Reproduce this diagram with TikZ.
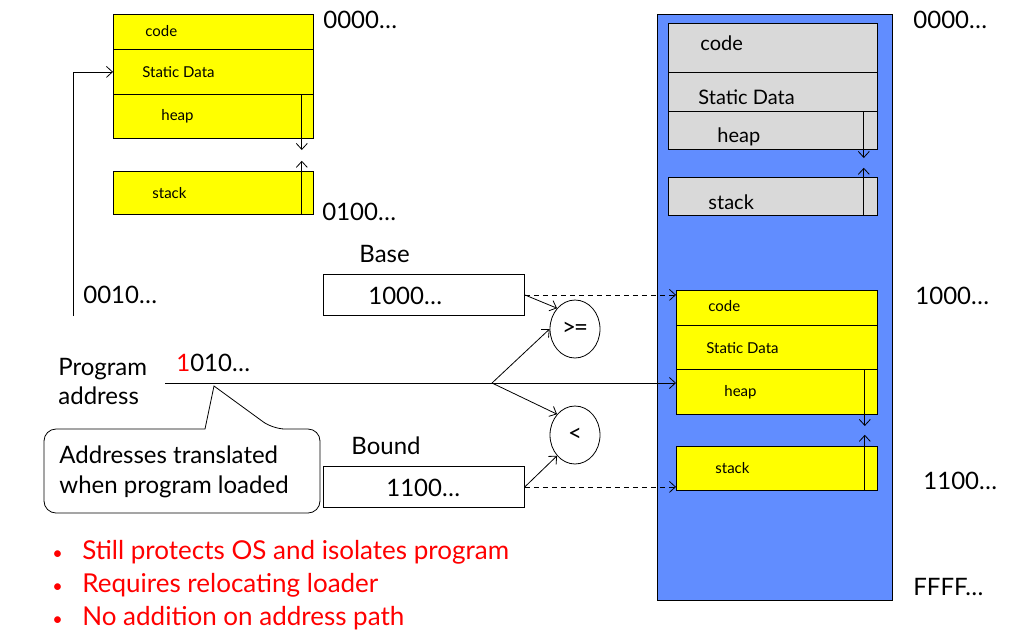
\documentclass[tikz,border=0pt]{standalone}
\usepackage{fontspec}
\setmainfont{Lato}
\usetikzlibrary{arrows.meta,shapes.geometric}
\definecolor{segyellow}{RGB}{255,255,0}
\definecolor{memblue}{RGB}{97,141,255}
\definecolor{seggray}{RGB}{217,217,217}
\definecolor{notered}{RGB}{255,0,0}
\newcommand{\bulletline}[1]{\makebox[30pt][l]{\fontsize{18}{18}\selectfont•}#1}

\begin{document}
\begin{tikzpicture}[x=1pt, y=-1pt, line width=0.8pt, >={Straight Barb[length=6pt,width=11pt]},
  seg/.style={draw, fill=segyellow, anchor=north west, inner sep=0pt},
  gseg/.style={draw, fill=seggray, anchor=north west, inner sep=0pt},
  reg/.style={draw, anchor=north west, inner sep=0pt, minimum width=201, minimum height=41},
  cmp/.style={draw, ellipse, inner sep=0pt, minimum width=50, minimum height=58, font=\fontsize{24}{24}\selectfont},
  small/.style={anchor=west, inner sep=0pt, font=\fontsize{15}{18}\selectfont},
  mid/.style={anchor=west, inner sep=0pt, font=\fontsize{20}{24}\selectfont},
  big/.style={anchor=west, inner sep=0pt, font=\fontsize{24}{29}\selectfont},
  link/.style={dash pattern=on 5pt off 4pt}]
  \useasboundingbox (0,0) rectangle (1011,633);

  % program as compiled
  \node[seg, minimum width=200, minimum height=35] (lcode) at (113,14) {};
  \node[seg, minimum width=200, minimum height=45] (ldata) at (113,49) {};
  \node[seg, minimum width=200, minimum height=44] (lheap) at (113,94) {};
  \node[seg, minimum width=200, minimum height=43] (lstack) at (113,171) {};
  \node[small] at (145,31) {code};
  \node[small] at (142,72) {Static Data};
  \node[small] at (161,116) {heap};
  \node[small] at (152,193) {stack};
  \draw[->] ([xshift=-12pt]lheap.north east) -- ++(0,56);
  \draw[->] ([xshift=-12pt]lstack.south east) -- ++(0,-54);
  \node[big] (ltop) at (323,20) {0000…};
  \node[big] (lbot) at (322,212) {0100…};
  \node[big] (lmid) at (83,295) {0010…};
  \coordinate (lfoot) at (73,316);
  \draw[->] (lfoot) |- (ldata.west);

  % physical memory
  \node[draw, fill=memblue, anchor=north west, minimum width=235, minimum height=586] (mem) at (657,14) {};
  \node[gseg, minimum width=209, minimum height=49] (gcode) at (668,23) {};
  \node[gseg, minimum width=209, minimum height=39] (gdata) at (668,72) {};
  \node[gseg, minimum width=209, minimum height=38] (gheap) at (668,111) {};
  \node[gseg, minimum width=209, minimum height=38] (gstack) at (668,177) {};
  \node[mid] at (700,43) {code};
  \node[mid] at (698,97) {Static Data};
  \node[mid] at (717,137) {heap};
  \node[mid] at (708,202) {stack};
  \draw[->] ([xshift=-14pt]gheap.north east) -- ++(0,47);
  \draw[->] ([xshift=-14pt]gstack.south east) -- ++(0,-48);

  \node[seg, minimum width=201, minimum height=35] (rcode) at (676,290) {};
  \node[seg, minimum width=201, minimum height=44] (rdata) at (676,325) {};
  \node[seg, minimum width=201, minimum height=45] (rheap) at (676,369) {};
  \node[seg, minimum width=201, minimum height=44] (rstack) at (676,446) {};
  \node[small] at (708,306) {code};
  \node[small] at (706,348) {Static Data};
  \node[small] at (724,392) {heap};
  \node[small] at (715,468) {stack};
  \draw[->] ([xshift=-13pt]rheap.north east) -- ++(0,57);
  \draw[->] ([xshift=-13pt]rstack.south east) -- ++(0,-56);

  \node[big] (rtop) at (913,20) {0000…};
  \node[big] (rbase) at (915,296) {1000…};
  \node[big] (rbound) at (923,481) {1100…};
  \node[big] (rend) at (913,587) {FFFF…};

  % base and bound registers
  \node[big] (baselbl) at (359,254) {Base};
  \node[reg] (basebox) at (323,274) {};
  \node[big] (baseval) at (368,296) {1000…};
  \node[big] (boundlbl) at (351,446) {Bound};
  \node[reg] (boundbox) at (323,466) {};
  \node[big] (boundval) at (386,488) {1100…};

  \node[cmp] (ge) at (575,329) {\mbox{>\kern-2pt=}};
  \node[cmp] (lt) at (575,435) {<};

  % program address path
  \node[big, align=left, anchor=north west] (progaddr) at (58,358) {Program\\address};
  \node[big] (addrval) at (176,363) {\textcolor{notered}{1}010…};
  \coordinate (pstart) at (165,383);
  \coordinate (split) at (492,383);
  \draw (pstart) -- (split);
  \draw[->] (split) -- (split -| rheap.west);
  \draw[->] (split) -- (ge.west);
  \draw[->] (split) -- (lt.north west);
  \draw[->] (basebox.east) -- (ge.north west);
  \draw[->] (boundbox.east) -- (lt.south west);
  \draw[link, ->] (basebox.east) -- (basebox.east -| rcode.west);
  \draw[link, ->] (boundbox.east) -- (boundbox.east -| rstack.west);

  % callout
  \draw[fill=white, rounded corners=12pt] (205,429) -- (44,429) -- (44,513) -- (320,513) -- (320,429) -- (273,429) [sharp corners] -- (214,386) -- cycle;
  \node[big, align=left, anchor=north west, font=\fontsize{24}{30}\selectfont] (note) at (59,445) {Addresses translated\\when program loaded};

  % remarks
  \node[big, text=notered, align=left, anchor=north west, font=\fontsize{26}{33}\selectfont] (remarks) at (52,540)
    {\bulletline{Still protects OS and isolates program}\\\bulletline{Requires relocating loader}\\\bulletline{No addition on address path}};
\end{tikzpicture}
\end{document}
